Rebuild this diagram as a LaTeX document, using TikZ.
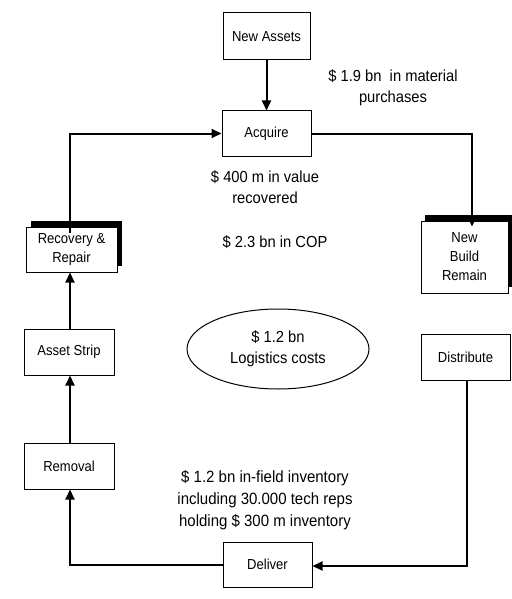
\documentclass[tikz,border=0pt]{standalone}
\usepackage{fontspec}
\usetikzlibrary{arrows.meta,shapes.geometric}
\newfontfamily\boxfont{Liberation Sans}[FakeStretch=0.9]
\newfontfamily\notefont{Liberation Sans}[FakeStretch=0.92]
\begin{document}
\begin{tikzpicture}[x=1pt,y=-1pt,
  stagebox/.style={draw,line width=1pt,fill=white,inner sep=2pt,align=center,
    font=\boxfont\fontsize{14.5}{19}\selectfont},
  shadowbox/.style={fill=black},
  note/.style={align=center,inner sep=0pt,font=\notefont\fontsize{16}{21}\selectfont},
  flow/.style={line width=2pt,-{Triangle[length=10pt,width=9pt]}},
  plain/.style={line width=2pt}]
\useasboundingbox (0,0) rectangle (511,599);

% guide coordinates for the loop
\coordinate (lx) at (70,0);
\coordinate (c1) at (472,133.5);
\coordinate (c2) at (70,133.5);
\coordinate (c3) at (467,566);

% shadows of the two raised boxes
\fill[shadowbox] (31,221) rectangle (122,266);
\fill[shadowbox] (425,215) rectangle (512,287);

% stages
\node[stagebox,minimum width=87pt,minimum height=47pt] (na)  at (266.5,36.5) {New Assets};
\node[stagebox,minimum width=89pt,minimum height=45pt] (acq) at (266.5,133.5) {Acquire};
\node[stagebox,minimum width=87pt,minimum height=72pt] (nbr) at (464.5,257) {New\\Build\\Remain};
\node[stagebox,minimum width=91pt,minimum height=45pt] (rec) at (71.5,249.5) {Recovery \&\\Repair};
\node[stagebox,minimum width=90pt,minimum height=46pt] (as)  at (69,352) {Asset Strip};
\node[stagebox,minimum width=90pt,minimum height=46pt] (rem) at (69,466) {Removal};
\node[stagebox,minimum width=89pt,minimum height=45pt] (del) at (267.5,564.5) {Deliver};
\node[stagebox,minimum width=89pt,minimum height=46pt] (dis) at (465.5,357) {Distribute};
\node[draw,line width=1pt,ellipse,minimum width=182pt,minimum height=80pt,inner sep=0pt,
  align=center,font=\notefont\fontsize{16}{21}\selectfont] (log) at (278,349) {\$ 1.2 bn\\Logistics costs};

% connectors
\draw[flow] (na.south) -- (acq.north);
\draw[flow] (acq.east) -- (c1) -- ([yshift=-6pt]c1 |- nbr.north);
\draw[flow] ([yshift=-6pt]rec.north -| c2) -- (c2) -- (acq.west);
\draw[flow] (as.north -| lx) -- (rec.south -| lx);
\draw[flow] (rem.north -| lx) -- (as.south -| lx);
\draw[flow] (del.west) -- (lx |- del.west) -- (rem.south -| lx);
\draw[flow] (dis.south -| c3) -- (c3) -- (c3 -| del.east);

% annotations
\node[note] (n1) at (393,88) {\$ 1.9 bn\ \ in material\\purchases};
\node[note] (n2) at (265,187) {\$ 400 m in value\\recovered};
\node[note] (n3) at (275,242) {\$ 2.3 bn in COP};
\node[note,font=\notefont\fontsize{16.3}{22}\selectfont] (n4) at (265,500)
  {\$ 1.2 bn in-field inventory\\including 30.000 tech reps\\holding \$ 300 m inventory};
\end{tikzpicture}
\end{document}
